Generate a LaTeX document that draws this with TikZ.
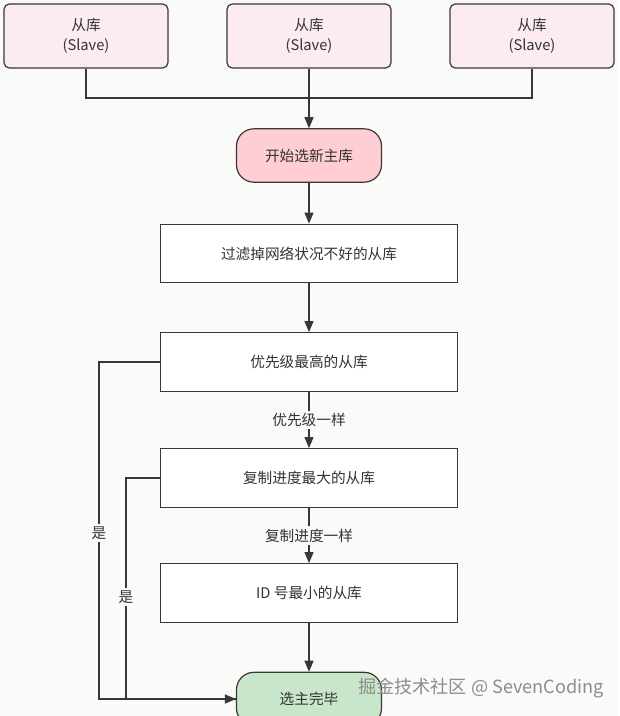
\documentclass[tikz,border=0pt]{standalone}
\usepackage{fontspec}
\setmainfont{Noto Sans CJK SC}
\usepackage{tikz}
\usetikzlibrary{arrows}
\usetikzlibrary{positioning}
\definecolor{bgcol}{RGB}{250,250,248}
\definecolor{linecol}{RGB}{55,55,55}
\definecolor{slavecol}{RGB}{252,236,240}
\definecolor{startcol}{RGB}{255,206,212}
\definecolor{donecol}{RGB}{200,230,202}

\begin{document}
\begin{tikzpicture}
      [x=0.75pt,y=-0.75pt,>=triangle 45,
      every node/.style={font=\fontsize{11}{15}\selectfont,text=black!80,align=center},
      slave/.style={draw=linecol,line width=0.9pt,fill=slavecol,rounded corners=4pt,
        minimum width=123pt,minimum height=48pt},
      stepbox/.style={draw=linecol,line width=0.9pt,fill=white,
        minimum width=222.75pt,minimum height=44pt},
      term/.style={draw=linecol,line width=0.9pt,rounded corners=13pt,
        minimum width=108.75pt,minimum height=40pt},
      line/.style={draw=linecol,line width=0.9pt},
      lbl/.style={fill=bgcol,inner sep=2pt}]
\fill[bgcol] (0,0) rectangle (619,716);
\useasboundingbox (0,0) rectangle (619,716);

\node[slave] (slaveA) at (86,36) {从库\\(Slave)};
\node[slave] (slaveB) at (309,36) {从库\\(Slave)};
\node[slave] (slaveC) at (532,36) {从库\\(Slave)};
\node[term,fill=startcol] (start) at (309,155.5) {开始选新主库};
\node[stepbox] (filter) at (309,253.5) {过滤掉网络状况不好的从库};
\node[stepbox] (prio) at (309,362) {优先级最高的从库};
\node[stepbox] (repl) at (309,478) {复制进度最大的从库};
\node[stepbox] (idmin) at (309,593) {ID 号最小的从库};
\node[term,fill=donecol] (done) at (309,699) {选主完毕};
\coordinate (join) at (309,98);
\coordinate (leftA) at (99,362);
\coordinate (leftB) at (126,478);

% slaves into start
\draw[line] (slaveA.south) |- (join) -| (slaveC.south);
\draw[line,->] (slaveB.south) -- (start.north);

% main chain
\draw[line,->] (start) -- (filter);
\draw[line,->] (filter) -- (prio);
\draw[line,->] (prio) -- node[lbl] {优先级一样} (repl);
\draw[line,->] (repl) -- node[lbl] {复制进度一样} (idmin);
\draw[line,->] (idmin) -- (done);

% yes branches
\draw[line,->] (prio.west) -- (leftA) |- node[lbl,pos=0.254] {是} (done.west);
\draw[line] (repl.west) -- (leftB) |- node[lbl,pos=0.27] {是} (done.west);

\node[text=black!45,font=\fontsize{13.6}{15}\selectfont] (mark) at (481,688) {掘金技术社区 @ SevenCoding};
\end{tikzpicture}
\end{document}
